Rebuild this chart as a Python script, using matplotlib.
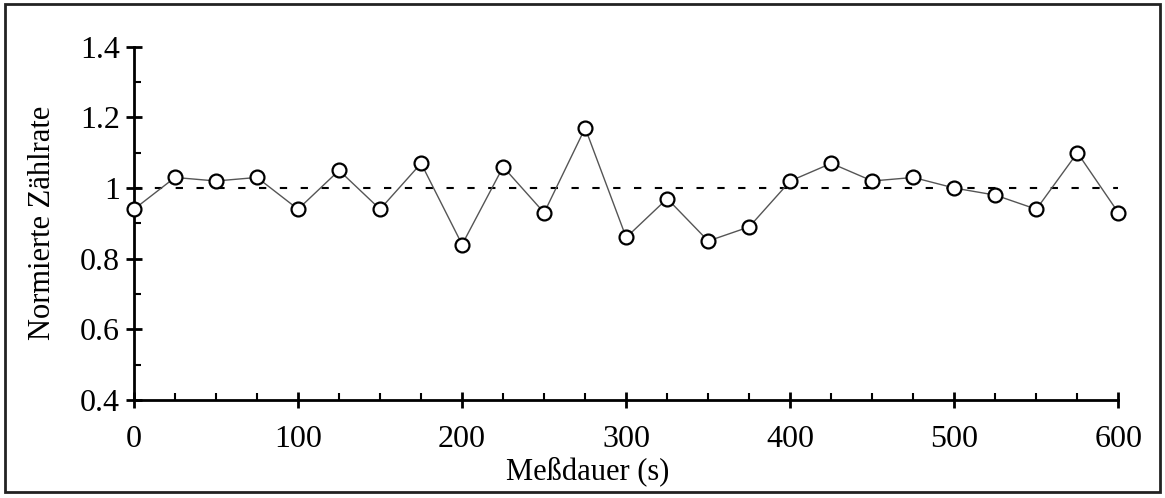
import matplotlib.pyplot as plt
from matplotlib.patches import Rectangle
from matplotlib.ticker import MultipleLocator

# Meßdauer in s, normierte Zählrate
zeit = [0, 25, 50, 75, 100, 125, 150, 175, 200, 225, 250, 275, 300,
        325, 350, 375, 400, 425, 450, 475, 500, 525, 550, 575, 600]
rate = [0.94, 1.03, 1.02, 1.03, 0.94, 1.05, 0.94, 1.07, 0.84, 1.06, 0.93, 1.17, 0.86,
        0.97, 0.85, 0.89, 1.02, 1.07, 1.02, 1.03, 1.00, 0.98, 0.94, 1.10, 0.93]
referenz = 1.0

plt.rcParams['font.family'] = ['Liberation Serif', 'DejaVu Serif']

fig = plt.figure(figsize=(11.65, 4.98), dpi=100)
ax = fig.add_axes([0.115, 0.197, 0.845, 0.709])

# Rahmen um die ganze Abbildung
fig.patches.append(Rectangle((0.004, 0.012), 0.992, 0.98, transform=fig.transFigure,
                             fill=False, edgecolor='#222222', linewidth=2))

ax.axhline(referenz, color='black', linestyle=(0, (3.5, 6.5)), linewidth=1.5)
ax.plot(zeit, rate, color='#555555', linewidth=1.0, marker='o', markersize=10,
        markerfacecolor='white', markeredgecolor='black', markeredgewidth=1.6,
        clip_on=False, zorder=3)

ax.set_xlim(0, 600)
ax.set_ylim(0.4, 1.4)
ax.xaxis.set_major_locator(MultipleLocator(100))
ax.xaxis.set_minor_locator(MultipleLocator(25))
ax.yaxis.set_minor_locator(MultipleLocator(0.1))
ax.set_yticks([0.4, 0.6, 0.8, 1.0, 1.2, 1.4])
ax.set_yticklabels(['0.4', '0.6', '0.8', '1', '1.2', '1.4'])

for side in ['top', 'right']:
    ax.spines[side].set_visible(False)
for side in ['left', 'bottom']:
    ax.spines[side].set_linewidth(2)

ax.tick_params(which='major', direction='inout', length=12, width=2, labelsize=23, pad=4)
ax.tick_params(which='minor', direction='in', length=5, width=1.5)
ax.tick_params(axis='x', which='major', pad=12)

ax.set_xlabel('Meßdauer (s)', fontsize=22, labelpad=0)
ax.xaxis.set_label_coords(0.461, -0.16)
ax.set_ylabel('Normierte Zählrate', fontsize=22)
ax.yaxis.set_label_coords(-0.078, 0.5)

fig.savefig('out.png', dpi=100)
